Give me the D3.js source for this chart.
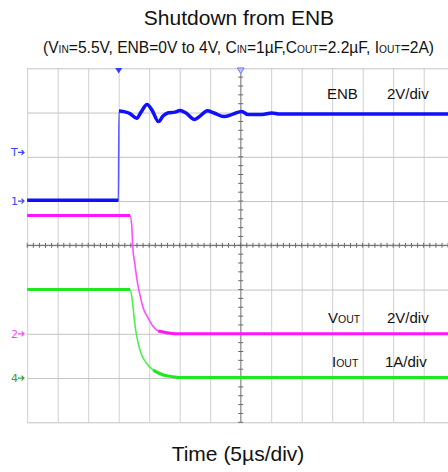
<!DOCTYPE html>
<html>
<head>
<meta charset="utf-8">
<script src="https://cdn.jsdelivr.net/npm/d3@7"></script>
<style>
  html, body { margin: 0; padding: 0; background: #fff; }
  svg { display: block; font-family: "Liberation Sans", Arial, sans-serif; }
</style>
</head>
<body>
<svg id="chart" width="448" height="472"></svg>
<script>
// Time in microseconds relative to the screen centre (5 µs/div)
const gridTimes = d3.range(-35, 36, 5);
const gridDivs = d3.range(-4, 5, 1);

// Channel 1: ENB (2 V/div)
const enbTime  = [-35, -20.05, -19.95, -19.87, -19.13, -18.15, -17.05, -16.34, -15.36, -14.54, -13.47, -12.74, -11.87, -10.77, -9.95, -8.97, -7.57, -6.67, -5.48, -4.38, -2.74, -1.26, 0.16, 1.2, 3.5, 5.1, 6.4, 8.1, 35];
const enbVolts = [0.04, 0.04, 4.07, 4.07, 4.04, 3.95, 3.74, 4.02, 4.36, 4.11, 3.59, 3.84, 3.99, 4.02, 4.09, 3.98, 3.69, 3.84, 4.08, 3.98, 3.82, 3.93, 4.05, 3.91, 3.91, 3.98, 3.93, 3.93, 3.94];

// Channel 2: VOUT (2 V/div)
const voutTime  = [-35, -18.15, -17.87, -17.70, -17.33, -16.95, -16.51, -15.97, -15.15, -14.33, -13.51, -12.13, -10.77, 35];
const voutVolts = [5.35, 5.35, 4.92, 3.97, 3.11, 2.35, 1.75, 1.15, 0.70, 0.32, 0.13, 0.05, 0.0, 0.0];

// Channel 4: IOUT (1 A/div)
const ioutTime = [-35, -18.15, -17.77, -17.49, -17.21, -16.79, -16.23, -15.41, -14.33, -12.69, -11.05, -9.95, 35];
const ioutAmps = [2.0, 2.0, 1.76, 1.39, 1.08, 0.78, 0.52, 0.33, 0.18, 0.07, 0.03, 0.01, 0.01];

const titleText = "Shutdown from ENB";
const timeLabel = "Time (5µs/div)";

const svg = d3.select("#chart");
const plotLeft = 27.2, plotTop = 68.3, divW = 30.5, divH = 44.25;
const plotW = divW * 14, plotH = divH * 8;

const x = d3.scaleLinear().domain([-35, 35]).range([plotLeft, plotLeft + plotW]);
const yDiv = d3.scaleLinear().domain([-4, 4]).range([plotTop + plotH, plotTop]);
// each channel: its own units-per-division and zero-level offset
const yEnb  = d3.scaleLinear().domain([-10, 6]).range([plotTop + plotH, plotTop]);
const yVout = d3.scaleLinear().domain([-4, 12]).range([plotTop + plotH, plotTop]);
const yIout = d3.scaleLinear().domain([-1, 7]).range([plotTop + plotH, plotTop]);

// Title and conditions
svg.append("text").attr("x", 239).attr("y", 25).attr("text-anchor", "middle")
  .attr("font-size", 21).attr("fill", "#111").text(titleText);

const sub = svg.append("text").attr("x", 238.5).attr("y", 53).attr("text-anchor", "middle")
  .attr("font-size", 15.6).attr("fill", "#111");
const subParts = [["(V", 0], ["IN", 1], ["=5.5V, ENB=0V to 4V, C", 0], ["IN", 1], ["=1µF,C", 0], ["OUT", 1], ["=2.2µF, I", 0], ["OUT", 1], ["=2A)", 0]];
subParts.forEach(([t, s]) => {
  sub.append("tspan").attr("font-size", s ? 10.2 : 15.6).text(t);
});

// Grid
const gridG = svg.append("g").attr("class", "grid");
gridG.append("g").attr("transform", `translate(0,${plotTop + plotH})`)
  .call(d3.axisBottom(x).tickValues(gridTimes).tickSize(-plotH).tickFormat(""))
  .call(g => g.select(".domain").remove())
  .call(g => g.selectAll("line").attr("stroke", "#cfcfcf").attr("stroke-width", 1));
gridG.append("g").attr("transform", `translate(${plotLeft},0)`)
  .call(d3.axisLeft(yDiv).tickValues(gridDivs).tickSize(-plotW).tickFormat(""))
  .call(g => g.select(".domain").remove())
  .call(g => g.selectAll("line").attr("stroke", "#c4c4c4").attr("stroke-width", 1));

// Centre cross with minor ticks
const cx = x(0), cy = yDiv(0);
gridG.append("line").attr("x1", plotLeft).attr("x2", 448).attr("y1", cy).attr("y2", cy)
  .attr("stroke", "#7a7a7a").attr("stroke-width", 1.2);
gridG.append("line").attr("x1", cx).attr("x2", cx).attr("y1", plotTop).attr("y2", plotTop + plotH)
  .attr("stroke", "#9a9a9a").attr("stroke-width", 1.2);
gridG.selectAll(".hmin").data(d3.range(-35, 35.01, 1)).join("line")
  .attr("x1", d => x(d)).attr("x2", d => x(d)).attr("y1", cy - 2.5).attr("y2", cy + 2.5)
  .attr("stroke", "#6a6a6a").attr("stroke-width", 1);
gridG.selectAll(".vmin").data(d3.range(-4, 4.01, 0.2)).join("line")
  .attr("x1", cx - 2.5).attr("x2", cx + 2.5).attr("y1", d => yDiv(d)).attr("y2", d => yDiv(d))
  .attr("stroke", "#6a6a6a").attr("stroke-width", 1);

// Traces: thin through fast edges, thick where the signal is steady
function drawTrace(ts, vs, yScale, thin, thick, maxSlope, width) {
  const pts = ts.map((t, i) => [x(t), yScale(vs[i])]);
  svg.append("path").attr("d", d3.line().curve(d3.curveMonotoneX)(pts)).attr("fill", "none")
    .attr("stroke", thin).attr("stroke-width", 1.6);
  let run = [];
  const runs = [];
  for (let i = 0; i < pts.length - 1; i++) {
    const dx = pts[i + 1][0] - pts[i][0], dy = Math.abs(pts[i + 1][1] - pts[i][1]);
    if (dy <= maxSlope * dx) {
      if (!run.length) run.push(pts[i]);
      run.push(pts[i + 1]);
    } else if (run.length) { runs.push(run); run = []; }
  }
  if (run.length) runs.push(run);
  const smooth = d3.line().curve(d3.curveMonotoneX);
  runs.forEach(r => svg.append("path").attr("d", smooth(r)).attr("fill", "none")
    .attr("stroke", thick).attr("stroke-width", width).attr("stroke-linejoin", "round"));
}
drawTrace(voutTime, voutVolts, yVout, "#ff4dff", "#ff14ff", 0.8, 3);
drawTrace(ioutTime, ioutAmps, yIout, "#4def4d", "#1ee81e", 0.8, 3);
drawTrace(enbTime, enbVolts, yEnb, "#5a5aff", "#1010ff", 2.2, 3.5);

// Trigger markers at top
const tri = (px, py) => `M${px - 3.5},${py - 3}L${px + 3.5},${py - 3}L${px},${py + 2.5}Z`;
svg.append("path").attr("d", tri(x(-20), 71)).attr("fill", "#2a3cff");
svg.append("path").attr("d", tri(cx, 71)).attr("fill", "#b9c4ff").attr("stroke", "#6c7cff").attr("stroke-width", 1);

// Channel level markers on the left
function marker(label, py, color) {
  svg.append("text").attr("x", 11).attr("y", py + 4).attr("font-size", 11)
    .attr("font-family", "DejaVu Sans, sans-serif").attr("fill", color).text(label);
  svg.append("path").attr("d", `M18,${py}L24,${py}M21.5,${py - 2.5}L24,${py}L21.5,${py + 2.5}`)
    .attr("stroke", color).attr("stroke-width", 1.2).attr("fill", "none");
}
marker("T", yEnb(2.2), "#3846ff");
marker("1", yEnb(0), "#3846ff");
marker("2", yVout(0), "#ff44ff");
marker("4", yIout(0), "#3c9c3c");

// Channel labels
function chLabel(main, subTxt, lx, scaleTxt, sx, py) {
  const t = svg.append("text").attr("x", lx).attr("y", py).attr("font-size", 15).attr("fill", "#111");
  t.append("tspan").text(main);
  if (subTxt) t.append("tspan").attr("font-size", 10.5).text(subTxt);
  svg.append("text").attr("x", sx).attr("y", py).attr("font-size", 15).attr("fill", "#111").text(scaleTxt);
}
chLabel("ENB", "", 327, "2V/div", 387, 99);
chLabel("V", "OUT", 328, "2V/div", 387, 322.5);
chLabel("I", "OUT", 332, "1A/div", 385, 366.5);

// Time axis label
svg.append("text").attr("x", 238).attr("y", 461).attr("text-anchor", "middle")
  .attr("font-size", 21).attr("fill", "#111").text(timeLabel);
</script>
</body>
</html>
